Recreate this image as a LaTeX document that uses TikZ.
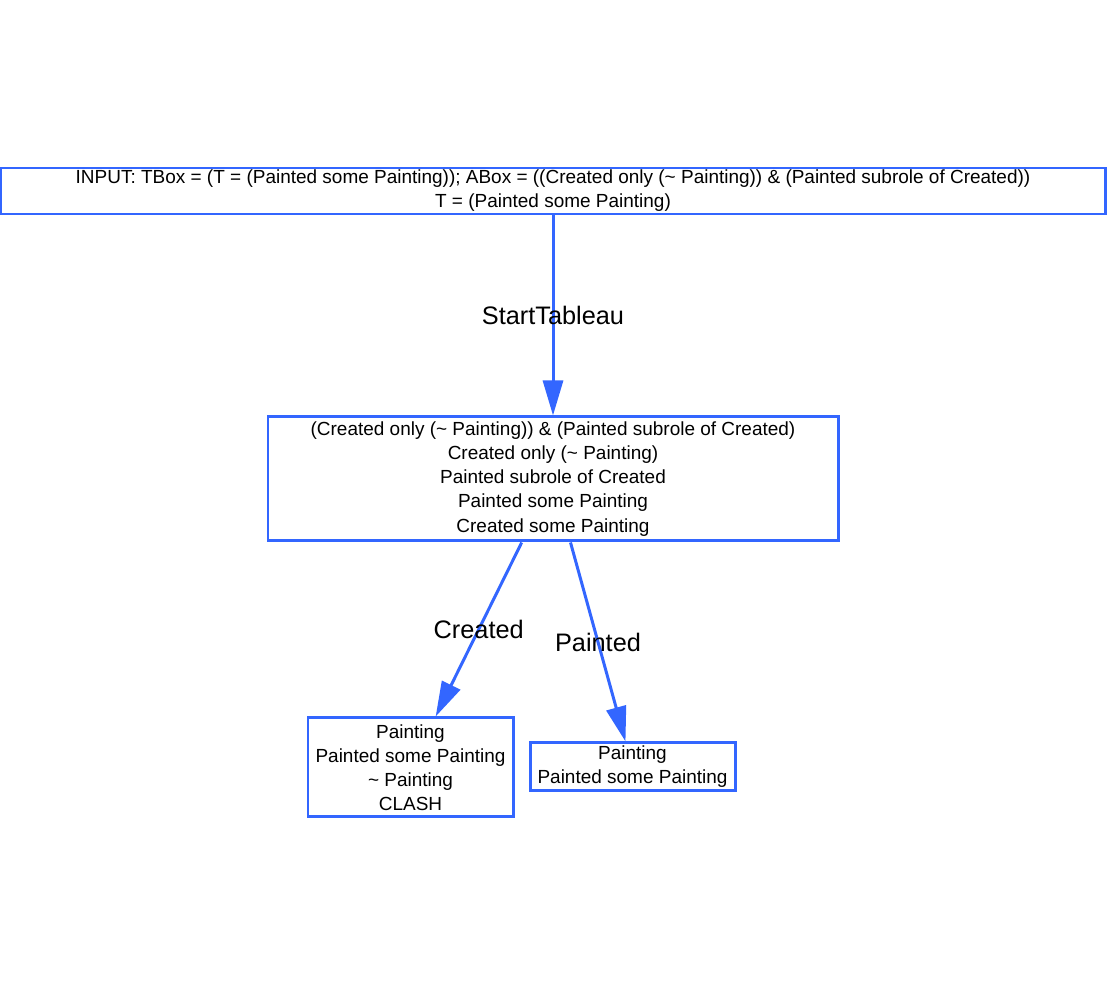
\documentclass[tikz,border=0pt]{standalone}
\usepackage{fontspec}
\setmainfont{Liberation Sans}
\usepackage{xcolor}
\usetikzlibrary{arrows.meta, positioning}
\definecolor{edgeblue}{HTML}{3366FF}

\begin{document}
\begin{tikzpicture}[
    >={Triangle[length=0.7cm, width=0.4cm]},
    state/.style={draw=edgeblue, line width=1.7pt, fill=white, rectangle, inner sep=1pt, align=center, font=\fontsize{10.8}{13.7}\selectfont},
    link/.style={->, draw=edgeblue, fill=edgeblue, line width=1.7pt},
    lbl/.style={font=\fontsize{14.4}{17}\selectfont, text=black}
]

% Frame
\useasboundingbox (0,0) rectangle (22.14,-19.64);

% Nodes
\node[state, minimum width=22.08cm, minimum height=0.92cm] (input) at (11.06,-3.82) {INPUT: TBox = (T = (Painted some Painting)); ABox = ((Created only (\char`\~{} Painting)) \& (Painted subrole of Created))\\T = (Painted some Painting)};
\node[state, minimum width=11.4cm, minimum height=2.48cm, below=4.0cm of input] (root) {(Created only (\char`\~{} Painting)) \& (Painted subrole of Created)\\Created only (\char`\~{} Painting)\\Painted subrole of Created\\Painted some Painting\\Created some Painting};
\node[state, minimum width=4.1cm, minimum height=1.98cm, below=3.48cm of root, xshift=-2.85cm] (clash) {Painting\\Painted some Painting\\\char`\~{} Painting\\CLASH};
\node[state, minimum width=4.1cm, minimum height=0.96cm, below=3.98cm of root, xshift=1.59cm] (open) {Painting\\Painted some Painting};

% Connections
\draw[link] (input) -- node[lbl] {StartTableau} (root);
\draw[link] (root) -- node[lbl] {Created} (clash);
\draw[link] (root) -- node[lbl] {Painted} (open);

\end{tikzpicture}
\end{document}
